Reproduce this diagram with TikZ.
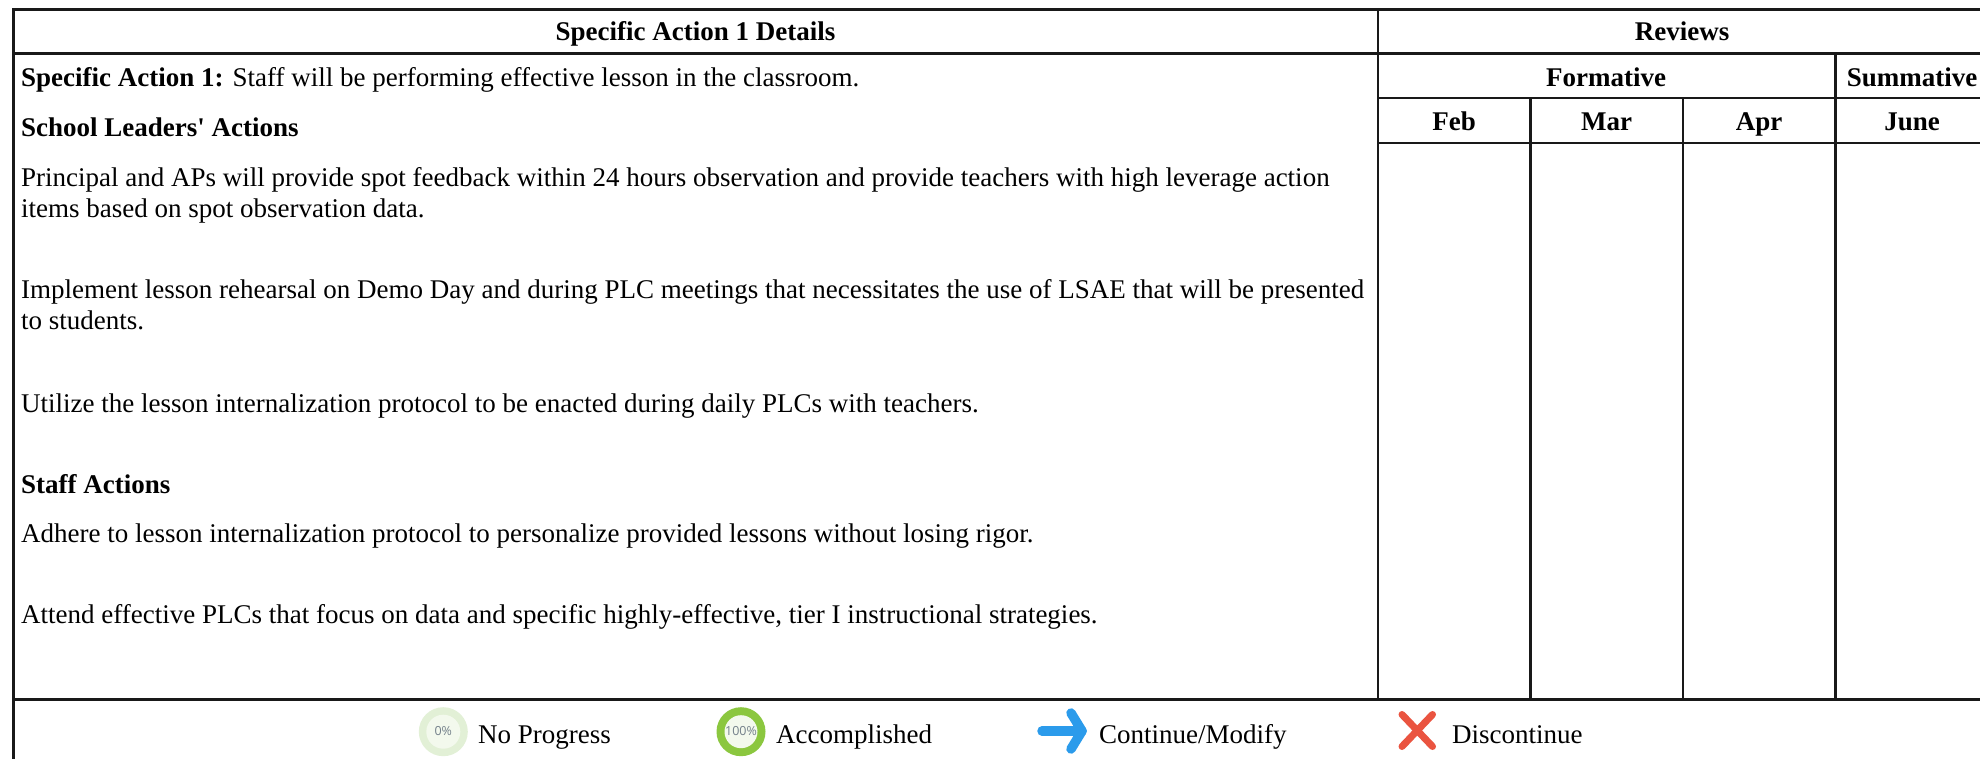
\documentclass[tikz,border=0pt]{standalone}
\usepackage{fontspec}
\setmainfont{Liberation Serif}[Ligatures=TeXOff]
\newfontfamily\ringfont{Open Sans}
\definecolor{ringpale}{RGB}{226,240,214}
\definecolor{ringcore}{RGB}{243,249,237}
\definecolor{ringfull}{RGB}{139,199,63}
\definecolor{ringtext}{RGB}{115,128,138}
\definecolor{arrowblue}{RGB}{43,155,235}
\definecolor{crossred}{RGB}{234,84,64}
\tikzset{
  x=1pt,y=-1pt,
  txt/.style={anchor=base west,inner sep=0pt,font=\fontsize{27}{27}\selectfont},
  ctr/.style={anchor=base,inner sep=0pt,font=\fontsize{27}{27}\selectfont\bfseries},
  rule/.style={line width=2.3pt,draw=black!90,line cap=rect},
  ringtxt/.style={inner sep=0pt,text=ringtext,font=\ringfont\fontsize{12.5}{12.5}\selectfont},
}
\begin{document}
\begin{tikzpicture}
\useasboundingbox (0,0) rectangle (1980,759);
\fill[white] (0,0) rectangle (1980,759);
% rules
\coordinate (tl) at (13.5,9.5);
\coordinate (tr) at (1980,9.5);
\coordinate (bl) at (13.5,759);
\draw[rule] (tl) -- (tr);
\draw[rule] (tl) -- (bl);
\draw[rule] (13.5,53.5) -- (1980,53.5);
\draw[rule] (1378,98) -- (1980,98);
\draw[rule] (1378,143) -- (1980,143);
\draw[rule] (13.5,699.5) -- (1980,699.5);
\draw[rule] (1378,9.5) -- (1378,699.5);
\draw[rule] (1530.5,98) -- (1530.5,699.5);
\draw[rule] (1683,98) -- (1683,699.5);
\draw[rule] (1835.5,53.5) -- (1835.5,699.5);
% headers
\node[ctr] (h1) at (695.5,40.5) {Specific Action 1 Details};
\node[ctr] (h2) at (1682,40.5) {Reviews};
\node[ctr] (h3) at (1606,86.7) {Formative};
\node[ctr] (h4) at (1912,86.7) {Summative};
\node[ctr] (m1) at (1454,130.5) {Feb};
\node[ctr] (m2) at (1606.5,130.5) {Mar};
\node[ctr] (m3) at (1759,130.5) {Apr};
\node[ctr] (m4) at (1912,130.5) {June};
% body
\node[txt] (t1) at (21,86.7) {\textbf{Specific Action 1:} Staff will be performing effective lesson in the classroom.};
\node[txt] (t2) at (21,137) {\textbf{School Leaders' Actions}};
\node[txt] (t3) at (21,187) {Principal and APs will provide spot feedback within 24 hours observation and provide teachers with high leverage action};
\node[txt] (t4) at (21,217.7) {items based on spot observation data.};
\node[txt] (t5) at (21,298.7) {Implement lesson rehearsal on Demo Day and during PLC meetings that necessitates the use of LSAE that will be presented};
\node[txt] (t6) at (21,329.4) {to students.};
\node[txt] (t7) at (21,412) {Utilize the lesson internalization protocol to be enacted during daily PLCs with teachers.};
\node[txt] (t8) at (21,493.3) {\textbf{Staff Actions}};
\node[txt] (t9) at (21,542.7) {Adhere to lesson internalization protocol to personalize provided lessons without losing rigor.};
\node[txt] (t10) at (21,623.7) {Attend effective PLCs that focus on data and specific highly-effective, tier I instructional strategies.};
% legend
\fill[ringpale] (443.3,731.7) circle (24.5);
\fill[ringcore] (443.3,731.7) circle (17);
\node[ringtxt] (r0) at (443.3,731) {0\%};
\node[txt] (l1) at (478,743) {No Progress};
\fill[ringfull] (741,731.7) circle (24.5);
\fill[ringcore] (741,731.7) circle (16.5);
\node[ringtxt] (r1) at (741,731) {100\%};
\node[txt] (l2) at (776,743) {Accomplished};
\node[txt] (l3) at (1099,743) {Continue/Modify};
\node[txt] (l4) at (1452,743) {Discontinue};
\draw[line width=9.5pt,color=arrowblue,line cap=round,line join=round] (1042,731) -- (1082,731);
\draw[line width=9.5pt,color=arrowblue,line cap=round,line join=round] (1071,713) -- (1082,731) -- (1071,749);
\draw[line width=7pt,color=crossred,line cap=round] (1402,714.5) -- (1432.5,746.5);
\draw[line width=7pt,color=crossred,line cap=round] (1432.5,714.5) -- (1402,746.5);
\end{tikzpicture}
\end{document}
